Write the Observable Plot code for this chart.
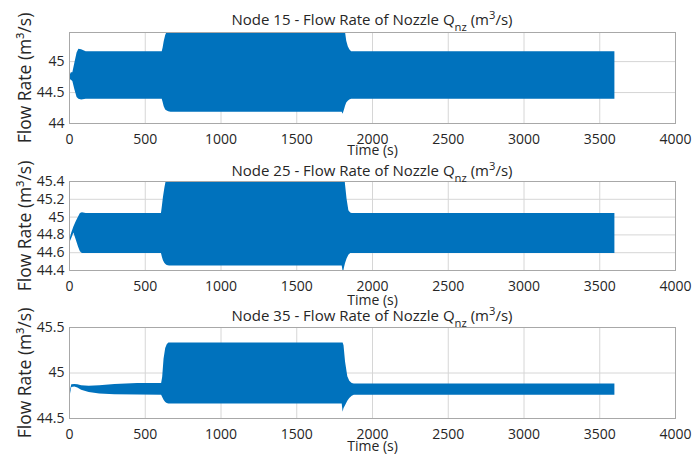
<!DOCTYPE html>
<html>
<head>
<meta charset="utf-8">
<script src="https://cdn.jsdelivr.net/npm/d3@7"></script>
<script src="https://cdn.jsdelivr.net/npm/@observablehq/plot@0.6"></script>
<style>
  body { margin: 0; background: #fff; }
  #chart { position: relative; width: 692px; height: 454px; background: #fff; overflow: hidden;
           font-family: "Open Sans", sans-serif; color: #262626; }
  #chart svg { position: absolute; left: 0; background: transparent; }
  .title { position: absolute; left: 69px; width: 606px; text-align: center; font-size: 15px;
           line-height: 20px; white-space: nowrap; }
  .title sub { font-size: 0.75em; vertical-align: -0.55em; line-height: 0; }
  .title sup { font-size: 0.75em; vertical-align: 0.55em; line-height: 0; }
</style>
</head>
<body>
<div id="chart"></div>
<script>
// Envelope (min / max) of the oscillating nozzle flow rate, m^3/s, versus time in s.
const node15Time  = [0, 12, 22, 35, 50, 62, 80, 110, 612, 618, 625, 635, 645, 655, 670, 1800, 1806, 1815, 1822, 1830, 1840, 1850, 1862, 3600];
const node15Upper = [44.75, 44.82, 44.82, 44.97, 45.14, 45.20, 45.19, 45.16, 45.16, 45.22, 45.32, 45.42, 45.48, 45.6, 45.6, 45.6, 45.6, 45.6, 45.47, 45.33, 45.24, 45.19, 45.16, 45.16];
const node15Lower = [44.72, 44.70, 44.68, 44.55, 44.42, 44.39, 44.38, 44.39, 44.39, 44.34, 44.27, 44.22, 44.20, 44.19, 44.18, 44.18, 44.15, 44.22, 44.28, 44.33, 44.36, 44.38, 44.39, 44.39];

const node25Time  = [0, 15, 29, 45, 60, 72, 85, 110, 607, 613, 620, 630, 638, 645, 660, 1800, 1808, 1815, 1822, 1832, 1844, 1856, 1866, 3600];
const node25Upper = [44.73, 44.82, 44.89, 44.95, 45.00, 45.04, 45.05, 45.04, 45.04, 45.12, 45.22, 45.33, 45.40, 45.5, 45.5, 45.5, 45.5, 45.5, 45.36, 45.20, 45.07, 45.045, 45.04, 45.04];
const node25Lower = [44.70, 44.76, 44.82, 44.74, 44.66, 44.61, 44.59, 44.59, 44.59, 44.55, 44.51, 44.48, 44.465, 44.455, 44.45, 44.45, 44.37, 44.43, 44.48, 44.53, 44.57, 44.59, 44.59, 44.59];

const node35Time  = [0, 8, 15, 35, 55, 80, 130, 200, 300, 450, 608, 615, 624, 635, 645, 656, 1800, 1806, 1812, 1822, 1837, 1850, 1866, 1880, 3600];
const node35Upper = [44.72, 44.82, 44.87, 44.875, 44.87, 44.86, 44.855, 44.86, 44.875, 44.885, 44.885, 44.95, 45.15, 45.27, 45.31, 45.33, 45.33, 45.33, 45.30, 45.12, 44.96, 44.91, 44.885, 44.88, 44.88];
const node35Lower = [44.70, 44.78, 44.84, 44.845, 44.835, 44.81, 44.785, 44.77, 44.76, 44.757, 44.755, 44.73, 44.70, 44.675, 44.665, 44.66, 44.66, 44.57, 44.61, 44.64, 44.69, 44.72, 44.745, 44.755, 44.756];

// Axis ticks
const timeTicks   = [0, 500, 1000, 1500, 2000, 2500, 3000, 3500, 4000];
const node15Ticks = [44, 44.5, 45];
const node25Ticks = [44.4, 44.6, 44.8, 45, 45.2, 45.4];
const node35Ticks = [44.5, 45, 45.5];

const node15Domain = [44, 45.47];
const node25Domain = [44.4, 45.4];
const node35Domain = [44.5, 45.5];

const titles = ["Node 15", "Node 25", "Node 35"];

const chart = document.getElementById("chart");

function panel({time, upper, lower, domain, yTicks, top, height, marginTop, xLabelOffset}) {
  const rows = time.map((t, i) => ({t, hi: upper[i], lo: lower[i]}));
  const svg = Plot.plot({
    width: 692,
    height,
    marginLeft: 69,
    marginRight: 17,
    marginTop,
    marginBottom: 36,
    style: {fontFamily: "Open Sans, sans-serif", fontSize: "14px", color: "#262626", background: "transparent", overflow: "visible"},
    x: {domain: [0, 4000], ticks: timeTicks, tickSize: 0, tickPadding: 10.5, label: null, tickFormat: d => String(d)},
    y: {domain, ticks: yTicks, tickSize: 0, tickPadding: 5, label: null, tickFormat: d => String(d)},
    marks: [
      Plot.ruleX(timeTicks, {stroke: "#d6d6d6", strokeWidth: 1}),
      Plot.ruleY(yTicks, {stroke: "#d6d6d6", strokeWidth: 1}),
      Plot.areaY(rows, {x: "t", y1: "lo", y2: "hi", fill: "#0072BD", clip: true}),
      Plot.frame({stroke: "#a8a8a8", strokeWidth: 1}),
      Plot.text(["Time (s)"], {frameAnchor: "bottom", dy: xLabelOffset, lineAnchor: "middle", fill: "#262626", fontSize: 14}),
      Plot.text(["Flow Rate (m³/s)"], {frameAnchor: "left", dx: -44, rotate: -90, textAnchor: "middle", lineAnchor: "middle", fill: "#262626", fontSize: 17.5})
    ]
  });
  svg.style.top = top + "px";
  chart.appendChild(svg);
}

panel({time: node15Time, upper: node15Upper, lower: node15Lower, domain: node15Domain, yTicks: node15Ticks, top: 26, height: 133, marginTop: 6, xLabelOffset: 27.5});
panel({time: node25Time, upper: node25Upper, lower: node25Lower, domain: node25Domain, yTicks: node25Ticks, top: 176, height: 130, marginTop: 5, xLabelOffset: 30});
panel({time: node35Time, upper: node35Upper, lower: node35Lower, domain: node35Domain, yTicks: node35Ticks, top: 320, height: 134, marginTop: 7, xLabelOffset: 28.5});

// Panel titles, with the Q_nz subscript and m^3 superscript
[9, 160, 305].forEach((y, i) => {
  const div = document.createElement("div");
  div.className = "title";
  div.style.top = y + "px";
  div.innerHTML = titles[i] + " - Flow Rate of Nozzle Q<sub>nz</sub> (m<sup>3</sup>/s)";
  chart.appendChild(div);
});
</script>
</body>
</html>
